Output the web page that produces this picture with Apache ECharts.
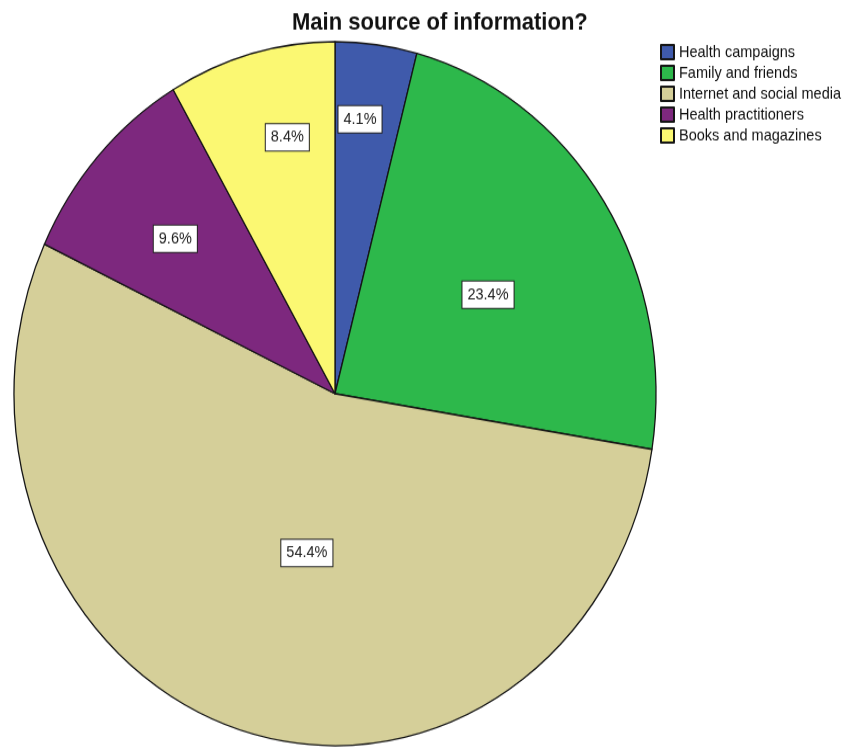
<!DOCTYPE html>
<html>
<head>
<meta charset="utf-8">
<script src="https://cdn.jsdelivr.net/npm/echarts@6/dist/echarts.min.js"></script>
<style>
  html, body { margin: 0; padding: 0; background: #fff; overflow: hidden; width: 852px; height: 749px; }
  /* the reference pie is a little taller than wide, so the whole chart is stretched vertically */
  #chart { width: 852px; height: 683px; transform: scaleY(1.0966); transform-origin: 0 0; }
</style>
</head>
<body>
<div id="chart"></div>
<script>
const categories = ['Health campaigns', 'Family and friends', 'Internet and social media', 'Health practitioners', 'Books and magazines'];
const percents = [4.1, 23.4, 54.4, 9.6, 8.4];
const colors = ['#3F5AAB', '#2DB84B', '#D5CF99', '#7D287E', '#FBF872'];

// label nudges away from the default inside position
const labelShift = [[4, -88], [16, -1], [20, -11], [-39, -31], [-5, -76]];

const chart = echarts.init(document.getElementById('chart'));
chart.setOption({
  backgroundColor: '#fff',
  animation: false,
  title: {
    text: 'Main source of information?',
    left: 287,
    top: 5,
    textStyle: { fontFamily: 'Liberation Sans', fontSize: 22, fontWeight: 'bold', color: '#111' }
  },
  legend: {
    orient: 'vertical',
    left: 655,
    top: 35,
    itemWidth: 13,
    itemHeight: 13,
    itemGap: 4,
    icon: 'rect',
    data: categories,
    textStyle: { fontFamily: 'Liberation Sans', fontSize: 14.5, lineHeight: 15, color: '#111' }
  },
  series: [{
    type: 'pie',
    center: [335, 359],
    radius: 321,
    startAngle: 90,
    clockwise: true,
    data: categories.map((name, i) => ({ name: name, value: percents[i], itemStyle: { color: colors[i] } })),
    itemStyle: { borderColor: '#151515', borderWidth: 1.3 },
    label: {
      position: 'inside',
      formatter: p => p.value.toFixed(1) + '%',
      fontFamily: 'Liberation Sans',
      fontSize: 14.5,
      color: '#222',
      backgroundColor: '#fff',
      borderColor: '#222',
      borderWidth: 1,
      padding: [5, 5, 4, 5]
    },
    labelLayout: p => ({ dx: labelShift[p.dataIndex][0], dy: labelShift[p.dataIndex][1] }),
    emphasis: { disabled: true }
  }]
});
</script>
</body>
</html>
